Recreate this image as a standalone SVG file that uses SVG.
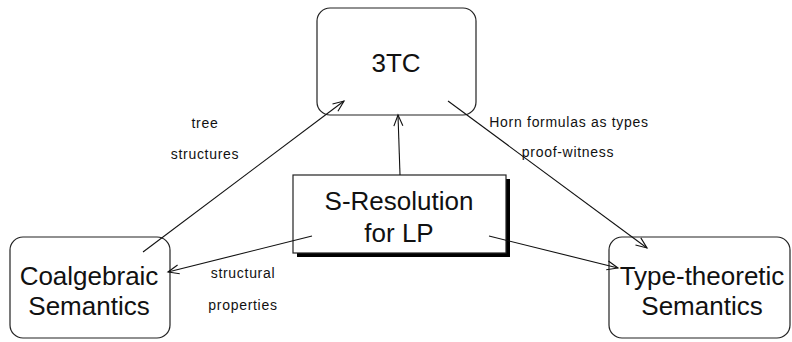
<svg xmlns="http://www.w3.org/2000/svg" width="792" height="342" viewBox="0 0 792 342">
<style>
.box{fill:#fff;stroke:#222;stroke-width:1.2}
.main{font-family:"Liberation Sans",Arial,sans-serif;font-size:26px;fill:#111;text-anchor:middle}
.lbl{font-family:"Liberation Sans",Arial,sans-serif;font-size:14px;fill:#111;text-anchor:middle;letter-spacing:0.7px}
.edge{stroke:#111;stroke-width:1.1;fill:none;marker-end:url(#ah)}
</style>
<defs>
<marker id="ah" markerUnits="userSpaceOnUse" markerWidth="14" markerHeight="12" viewBox="-12 -6 14 12" refX="0" refY="0" orient="auto">
<path d="M-11,-4.5 L0,0 L-11,4.5" fill="none" stroke="#111" stroke-width="1.1"/>
</marker>
</defs>
<rect width="792" height="342" fill="#fff"/>
<g id="node-3tc">
<rect class="box" x="317" y="8" width="159" height="107" rx="13"/>
<text class="main" x="396" y="72">3TC</text>
</g>
<g id="node-sres">
<rect x="297" y="179" width="213" height="78" fill="#000"/>
<rect class="box" x="293" y="175" width="213" height="78"/>
<text class="main" x="399" y="210">S-Resolution</text>
<text class="main" x="399" y="242">for LP</text>
</g>
<g id="node-coalg">
<rect class="box" x="10" y="237" width="160" height="101" rx="13"/>
<text class="main" x="89" y="285">Coalgebraic</text>
<text class="main" x="89" y="315">Semantics</text>
</g>
<g id="node-type">
<rect class="box" x="609" y="237" width="181" height="101" rx="13"/>
<text class="main" x="702" y="285">Type-theoretic</text>
<text class="main" x="702" y="315">Semantics</text>
</g>
<g id="connectors">
<line class="edge" x1="143" y1="252" x2="344" y2="101"/>
<line class="edge" x1="400" y1="175" x2="398" y2="115"/>
<line class="edge" x1="448" y1="101" x2="647" y2="248"/>
<line class="edge" x1="489" y1="236" x2="618" y2="268"/>
<line class="edge" x1="312" y1="236" x2="168" y2="272"/>
</g>
<g id="labels">
<text class="lbl" x="205" y="128">tree</text>
<text class="lbl" x="205" y="159">structures</text>
<text class="lbl" x="569" y="127">Horn formulas as types</text>
<text class="lbl" x="568" y="157">proof-witness</text>
<text class="lbl" x="243" y="278">structural</text>
<text class="lbl" x="243" y="310">properties</text>
</g>
</svg>
